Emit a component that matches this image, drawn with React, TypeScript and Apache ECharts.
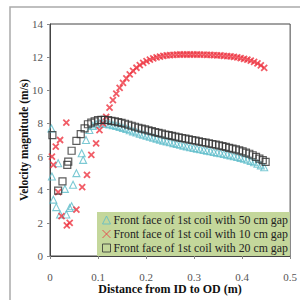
import React, { useEffect, useRef } from "react";
import * as echarts from "echarts";

const seriesNames = [
  "Front face of 1st coil with 50 cm gap",
  "Front face of 1st coil with 10 cm gap",
  "Front face of 1st coil with 20 cm gap",
];

const xTicks = [0, 0.1, 0.2, 0.3, 0.4, 0.5];
const yTicks = [0, 2, 4, 6, 8, 10, 12, 14];

// 50 cm gap (triangles)
const gap50: number[][] = [
  [0.003, 7.7], [0.004, 4.8], [0.007, 3.4], [0.013, 2.95], [0.017, 5.6], [0.021, 2.5],
  [0.031, 4.05], [0.034, 2.5], [0.041, 2.9], [0.045, 3.0], [0.048, 4.3], [0.055, 5.0],
  [0.066, 6.2], [0.069, 5.8], [0.075, 7.0], [0.082, 7.6],
  [0.089, 7.85], [0.096, 7.95], [0.103, 8.0], [0.110, 8.0], [0.117, 7.98], [0.124, 7.94],
  [0.131, 7.9], [0.138, 7.85], [0.145, 7.79], [0.152, 7.73], [0.159, 7.66], [0.166, 7.59],
  [0.173, 7.52], [0.180, 7.45], [0.187, 7.38], [0.194, 7.32], [0.201, 7.26], [0.208, 7.2],
  [0.215, 7.14], [0.222, 7.08], [0.229, 7.02], [0.236, 6.96], [0.243, 6.91], [0.250, 6.86],
  [0.257, 6.81], [0.264, 6.76], [0.271, 6.71], [0.278, 6.66], [0.285, 6.61], [0.292, 6.56],
  [0.299, 6.52], [0.306, 6.48], [0.313, 6.44], [0.320, 6.4], [0.327, 6.36], [0.334, 6.32],
  [0.341, 6.28], [0.348, 6.24], [0.355, 6.2], [0.362, 6.16], [0.369, 6.12], [0.376, 6.07],
  [0.383, 6.02], [0.390, 5.97], [0.397, 5.92], [0.404, 5.87], [0.411, 5.81], [0.418, 5.74],
  [0.425, 5.66], [0.432, 5.57], [0.439, 5.47], [0.446, 5.36],
];

// 10 cm gap (crosses)
const gap10: number[][] = [
  [0.004, 6.0], [0.007, 5.5], [0.012, 6.6], [0.017, 3.85], [0.021, 7.0], [0.024, 2.4],
  [0.034, 8.05], [0.035, 1.85], [0.041, 2.0], [0.055, 2.8], [0.067, 4.15], [0.077, 4.9],
  [0.086, 6.1], [0.096, 6.8],
  [0.103, 7.6], [0.110, 8.0], [0.117, 8.4], [0.124, 8.95], [0.131, 9.4], [0.138, 9.8],
  [0.145, 10.15], [0.152, 10.45], [0.159, 10.72], [0.166, 10.96], [0.173, 11.17], [0.180, 11.36],
  [0.187, 11.52], [0.194, 11.65], [0.201, 11.76], [0.208, 11.85], [0.215, 11.92], [0.222, 11.98],
  [0.229, 12.03], [0.236, 12.07], [0.243, 12.1], [0.250, 12.12], [0.257, 12.14], [0.264, 12.15],
  [0.271, 12.16], [0.278, 12.16], [0.285, 12.16], [0.292, 12.16], [0.299, 12.16], [0.306, 12.16],
  [0.313, 12.15], [0.320, 12.15], [0.327, 12.14], [0.334, 12.13], [0.341, 12.12], [0.348, 12.11],
  [0.355, 12.1], [0.362, 12.08], [0.369, 12.06], [0.376, 12.04], [0.383, 12.01], [0.390, 11.98],
  [0.397, 11.94], [0.404, 11.9], [0.411, 11.85], [0.418, 11.79], [0.425, 11.72], [0.432, 11.63],
  [0.439, 11.5], [0.446, 11.35],
];

// 20 cm gap (squares)
const gap20: number[][] = [
  [0.005, 7.3], [0.017, 3.95], [0.026, 4.5], [0.036, 5.5], [0.038, 5.7], [0.045, 6.35],
  [0.055, 6.95], [0.064, 7.35], [0.072, 7.7], [0.079, 7.95], [0.086, 8.05],
  [0.093, 8.12], [0.100, 8.2], [0.107, 8.22], [0.114, 8.22], [0.121, 8.2], [0.128, 8.16],
  [0.135, 8.12], [0.142, 8.08], [0.149, 8.03], [0.156, 7.98], [0.163, 7.92], [0.170, 7.86],
  [0.177, 7.8], [0.184, 7.74], [0.191, 7.69], [0.198, 7.64], [0.205, 7.58], [0.212, 7.53],
  [0.219, 7.48], [0.226, 7.43], [0.233, 7.38], [0.240, 7.33], [0.247, 7.29], [0.254, 7.25],
  [0.261, 7.2], [0.268, 7.16], [0.275, 7.12], [0.282, 7.08], [0.289, 7.04], [0.296, 7.0],
  [0.303, 6.96], [0.310, 6.92], [0.317, 6.88], [0.324, 6.84], [0.331, 6.8], [0.338, 6.76],
  [0.345, 6.72], [0.352, 6.68], [0.359, 6.63], [0.366, 6.58], [0.373, 6.53], [0.380, 6.48],
  [0.387, 6.43], [0.394, 6.37], [0.401, 6.31], [0.408, 6.24], [0.415, 6.17], [0.422, 6.08],
  [0.429, 5.98], [0.436, 5.88], [0.443, 5.78], [0.449, 5.68],
];

const serif = "Liberation Serif";
const colors = ["#5bbcc9", "#ee3340", "#333333"];
const symbols = ["triangle", "path://M0,0L10,10M10,0L0,10", "rect"];
const borderWidths = [1.1, 1.8, 1.2];

export default function App() {
  const ref = useRef<HTMLDivElement>(null);
  useEffect(() => {
    if (!ref.current) return;
    const chart = echarts.init(ref.current, null, { renderer: "svg" });
    chart.setOption({
      animation: false,
      backgroundColor: "#fff",
      textStyle: { fontFamily: serif },
      grid: {
        left: 50,
        right: 7,
        top: 24,
        bottom: 38,
        show: true,
        borderColor: "#444",
        borderWidth: 1,
      },
      xAxis: {
        type: "value",
        min: xTicks[0],
        max: xTicks[xTicks.length - 1],
        interval: 0.1,
        name: "Distance from ID to OD (m)",
        nameLocation: "middle",
        nameGap: 33,
        nameMoveOverlap: false,
        nameTextStyle: { fontFamily: serif, fontWeight: "bold", fontSize: 12, color: "#111", verticalAlign: "middle" },
        axisLine: { show: true, lineStyle: { color: "#444" } },
        axisTick: { show: true, inside: false, length: 3, lineStyle: { color: "#888" } },
        splitLine: { show: false },
        axisLabel: {
          fontFamily: serif,
          fontSize: 11,
          color: "#555",
          margin: 15,
          formatter: (v: number) => String(Number(v.toFixed(1))),
        },
      },
      yAxis: {
        type: "value",
        min: yTicks[0],
        max: yTicks[yTicks.length - 1],
        interval: 2,
        name: "Velocity magnitude (m/s)",
        nameLocation: "middle",
        nameGap: 26,
        nameMoveOverlap: false,
        nameTextStyle: { fontFamily: serif, fontWeight: "bold", fontSize: 11.5, color: "#111", verticalAlign: "middle" },
        axisLine: { show: true, lineStyle: { color: "#444" } },
        axisTick: { show: true, inside: false, length: 3, lineStyle: { color: "#888" } },
        splitLine: { show: false },
        axisLabel: { fontFamily: serif, fontSize: 11, color: "#555", margin: 7 },
      },
      legend: {
        orient: "vertical",
        left: 97,
        top: 212,
        backgroundColor: "#c4d79b",
        padding: [2, 2, 2, 5],
        itemGap: 2,
        itemWidth: 8,
        itemHeight: 8,
        textStyle: { fontFamily: serif, fontSize: 11.8, color: "#222", padding: [0, 0, 0, -2] },
        data: seriesNames.map((name, i) => ({
          name,
          icon: symbols[i],
          itemStyle: { color: "transparent", borderColor: colors[i], borderWidth: 1 },
        })),
      },
      graphic: [
        {
          type: "rect",
          shape: { x: 10, y: 7, width: 300, height: 300 },
          style: { fill: "none", stroke: "#aaa", lineWidth: 1.5 },
          silent: true,
        },
      ],
      series: [gap50, gap10, gap20].map((data, i) => ({
        name: seriesNames[i],
        type: "scatter",
        data,
        symbol: symbols[i],
        symbolSize: i === 1 ? 6 : 7,
        itemStyle: { color: "transparent", borderColor: colors[i], borderWidth: borderWidths[i] },
        z: 3 + i,
      })),
    });
    return () => chart.dispose();
  }, []);
  return <div ref={ref} style={{ width: 300, height: 300, position: "absolute", left: 0, top: 0 }} />;
}
